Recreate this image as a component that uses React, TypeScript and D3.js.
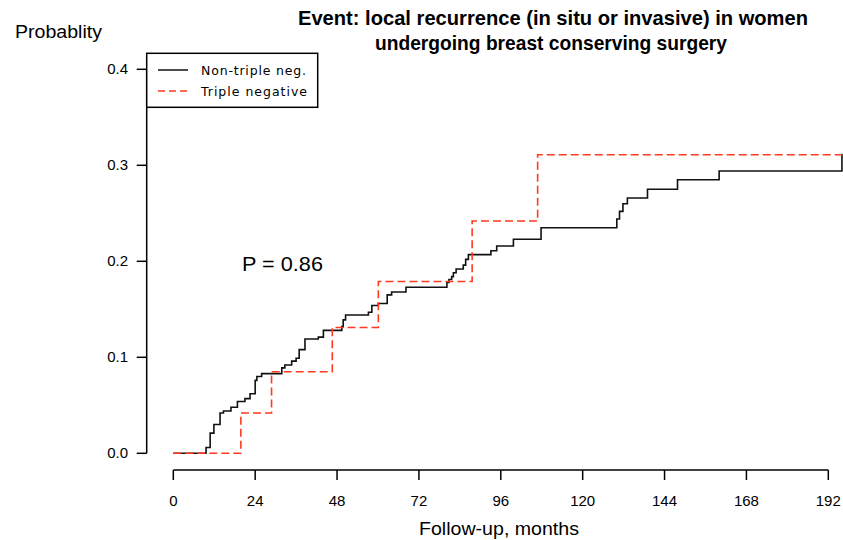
import * as d3 from 'd3';

// Non-triple negative: step times (months) and cumulative probability
const nonTnMonths = [0, 9.6, 10.8, 11.9, 13.7, 14.7, 16.9, 18.8, 21.0, 22.5, 24.0, 24.5, 25.9, 31.8, 32.7, 34.7, 36.0, 36.9, 38.6, 42.5, 44.0, 49.4, 49.8, 50.5, 57.2, 58.2, 60.1, 62.7, 64.0, 68.2, 80.2, 80.8, 81.6, 82.1, 82.9, 85.0, 85.7, 86.5, 93.1, 94.8, 99.7, 107.8, 130.0, 130.8, 131.8, 133.1, 139.0, 147.8, 160.0, 196.0];
const nonTnProb = [0, 0.006, 0.021, 0.030, 0.042, 0.044, 0.048, 0.054, 0.057, 0.062, 0.076, 0.080, 0.083, 0.089, 0.092, 0.096, 0.099, 0.108, 0.119, 0.121, 0.128, 0.132, 0.139, 0.144, 0.147, 0.154, 0.156, 0.165, 0.168, 0.173, 0.178, 0.181, 0.184, 0.188, 0.192, 0.196, 0.202, 0.207, 0.211, 0.216, 0.223, 0.235, 0.244, 0.252, 0.260, 0.266, 0.275, 0.285, 0.294, 0.312];

// Triple negative
const tnMonths = [0, 19.8, 28.8, 46.6, 60.1, 87.6, 106.8, 196.0];
const tnProb = [0, 0.042, 0.085, 0.131, 0.179, 0.242, 0.311, 0.311];

const xTicks = [0, 24, 48, 72, 96, 120, 144, 168, 192];
const yTicks = [0, 0.1, 0.2, 0.3, 0.4];
const legendLabels = ['Non-triple neg.', 'Triple negative'];

const W = 843;
const H = 540;
const sans = '"Liberation Sans", Arial, sans-serif';
const legendFont = '"DejaVu Sans", Verdana, sans-serif';

export default function App() {
  const x = d3.scaleLinear().domain([0, 192]).range([173.3, 828.3]);
  const y = d3.scaleLinear().domain([0, 0.4]).range([453.3, 69.3]);
  const line = d3
    .line<[number, number]>()
    .x(d => x(d[0]))
    .y(d => y(d[1]))
    .curve(d3.curveStepAfter);

  const nonTn = nonTnMonths.map((m, i) => [m, nonTnProb[i]] as [number, number]);
  const tn = tnMonths.map((m, i) => [m, tnProb[i]] as [number, number]);

  const axisY = 470;
  const axisX = 146.7;

  return (
    <svg width={W} height={H} style={{ position: 'absolute', left: 0, top: 0, background: '#fff' }}>
      <rect width={W} height={H} fill="#fff" />
      {/* title */}
      <text x={298} y={25} fontFamily={sans} fontWeight="bold" fontSize={20.5} fill="#000"
        textLength={510} lengthAdjust="spacingAndGlyphs">
        Event: local recurrence (in situ or invasive) in women
      </text>
      <text x={375} y={50} fontFamily={sans} fontWeight="bold" fontSize={20.5} fill="#000"
        textLength={352} lengthAdjust="spacingAndGlyphs">
        undergoing breast conserving surgery
      </text>
      <text x={15} y={38} fontFamily={sans} fontSize={17.5} fill="#000"
        textLength={87} lengthAdjust="spacingAndGlyphs">Probablity</text>

      {/* y axis */}
      <line x1={axisX} x2={axisX} y1={y(0)} y2={y(0.4)} stroke="#000" strokeWidth={1.5} />
      {yTicks.map(t => (
        <g key={t}>
          <line x1={axisX - 10} x2={axisX} y1={y(t)} y2={y(t)} stroke="#000" strokeWidth={1.5} />
          <text x={128} y={y(t) + 5} textAnchor="end" fontFamily={sans} fontSize={15} fill="#000">
            {d3.format('.1f')(t)}
          </text>
        </g>
      ))}

      {/* x axis */}
      <line x1={x(0)} x2={x(192)} y1={axisY} y2={axisY} stroke="#000" strokeWidth={1.5} />
      {xTicks.map(t => (
        <g key={t}>
          <line x1={x(t)} x2={x(t)} y1={axisY} y2={axisY + 10} stroke="#000" strokeWidth={1.5} />
          <text x={x(t)} y={506} textAnchor="middle" fontFamily={sans} fontSize={15} fill="#000">
            {t}
          </text>
        </g>
      ))}
      <text x={419} y={535} fontFamily={sans} fontSize={19} fill="#000"
        textLength={160} lengthAdjust="spacingAndGlyphs">
        Follow-up, months
      </text>

      <text x={242} y={271} fontFamily={sans} fontSize={21} fill="#000"
        textLength={81} lengthAdjust="spacingAndGlyphs">P = 0.86</text>

      {/* curves */}
      <path d={line(nonTn) ?? ''} fill="none" stroke="#111" strokeWidth={1.6} />
      <path d={line(tn) ?? ''} fill="none" stroke="#ff3b1f" strokeWidth={1.6} strokeDasharray="8,4" />

      {/* legend */}
      <rect x={axisX} y={53.3} width={171} height={54} fill="#fff" stroke="#000" strokeWidth={1.5} />
      <line x1={158} x2={188} y1={70} y2={70} stroke="#111" strokeWidth={1.5} />
      <line x1={158} x2={188} y1={91} y2={91} stroke="#ff3b1f" strokeWidth={1.5} strokeDasharray="7,4" />
      <text x={201} y={75} fontFamily={legendFont} fontSize={12.5} fill="#000"
        textLength={105} lengthAdjust="spacing">{legendLabels[0]}</text>
      <text x={201} y={96} fontFamily={legendFont} fontSize={12.5} fill="#000"
        textLength={106} lengthAdjust="spacing">{legendLabels[1]}</text>
    </svg>
  );
}
